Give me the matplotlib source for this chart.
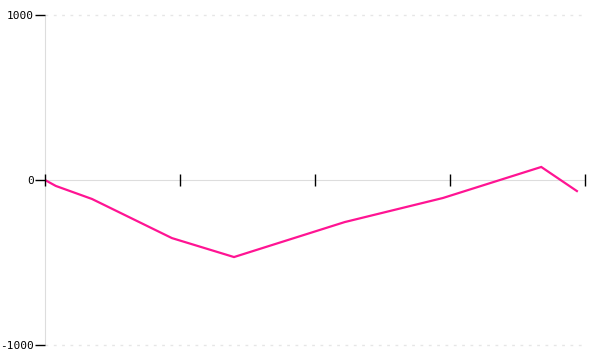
import matplotlib
matplotlib.use("Agg")
import matplotlib.pyplot as plt
import numpy as np

# values
x_vals = [0, 2, 8.7, 23.5, 35, 55.5, 73.7, 91.9, 98.5]
y_vals = [0, -36, -115, -352, -467, -255, -109, 79, -67]
x_ticks = [0, 25, 50, 75, 100]
y_ticks = [-1000, 0, 1000]
y_labels = ['-1000', '0', '1000']

fig = plt.figure(figsize=(6, 3.6), dpi=100)
ax = fig.add_axes([45/600, 15/360, 540/600, 330/360])

ax.plot(x_vals, y_vals, color='#ff1493', lw=1.6, solid_joinstyle='miter', zorder=2)

ax.set_xlim(0, 100)
ax.set_ylim(-1000, 1000)

# spines
for s in ['top', 'right']:
    ax.spines[s].set_visible(False)
ax.spines['left'].set_color('#dddddd')
ax.spines['left'].set_zorder(1)
ax.spines['bottom'].set_position(('data', 0))
ax.spines['bottom'].set_color('#dddddd')
ax.spines['bottom'].set_zorder(1)

ax.set_xticks(x_ticks)
ax.set_xticklabels([])
ax.tick_params(axis='x', direction='inout', length=9, width=1, color='black')

ax.set_yticks(y_ticks)
ax.set_yticklabels(y_labels, family='DejaVu Sans Mono', fontsize=8)
ax.tick_params(axis='y', direction='out', length=7, width=1, color='black', pad=1)
ax.xaxis.set_zorder(4)
ax.yaxis.set_zorder(4)

# dashed grid at +/-1000
for yv in [-1000, 1000]:
    ax.axhline(yv, color='#e6e6e6', lw=1, ls=(0, (2, 4)), zorder=1, clip_on=False)

fig.savefig('out.png', dpi=100)
